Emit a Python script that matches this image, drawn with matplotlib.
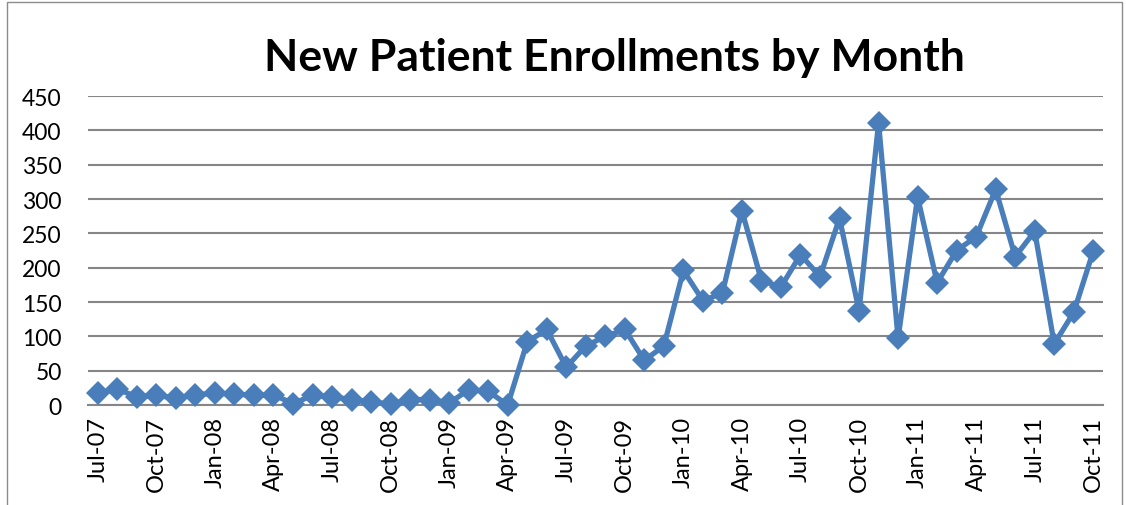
import matplotlib.pyplot as plt
from matplotlib.patches import Rectangle

# Monthly enrollments, Jul-07 .. Oct-11
months = ['Jul-07', 'Aug-07', 'Sep-07', 'Oct-07', 'Nov-07', 'Dec-07',
          'Jan-08', 'Feb-08', 'Mar-08', 'Apr-08', 'May-08', 'Jun-08',
          'Jul-08', 'Aug-08', 'Sep-08', 'Oct-08', 'Nov-08', 'Dec-08',
          'Jan-09', 'Feb-09', 'Mar-09', 'Apr-09', 'May-09', 'Jun-09',
          'Jul-09', 'Aug-09', 'Sep-09', 'Oct-09', 'Nov-09', 'Dec-09',
          'Jan-10', 'Feb-10', 'Mar-10', 'Apr-10', 'May-10', 'Jun-10',
          'Jul-10', 'Aug-10', 'Sep-10', 'Oct-10', 'Nov-10', 'Dec-10',
          'Jan-11', 'Feb-11', 'Mar-11', 'Apr-11', 'May-11', 'Jun-11',
          'Jul-11', 'Aug-11', 'Sep-11', 'Oct-11']
enrollments = [17, 23, 12, 14, 10, 15,
               17, 16, 14, 15, 2, 14,
               12, 8, 5, 1, 8, 8,
               3, 22, 20, 0, 92, 110,
               55, 86, 100, 110, 65, 86,
               196, 152, 163, 283, 181, 172,
               219, 187, 272, 137, 411, 97,
               303, 178, 225, 245, 314, 216,
               253, 89, 135, 224]
yticks = [0, 50, 100, 150, 200, 250, 300, 350, 400, 450]

fig = plt.figure(figsize=(11.26, 5.06), dpi=100)
ax = fig.add_axes([0.0782, 0.1976, 0.9014, 0.6107])

x = list(range(len(months)))
ax.plot(x, enrollments, color='#4A7EBB', linewidth=3.8, marker='D',
        markersize=12.5, markeredgewidth=0, zorder=3, clip_on=False)

ax.set_xlim(-0.5, len(months) - 0.5)
ax.set_ylim(0, 450)
ax.set_yticks(yticks)
ax.set_yticklabels([str(v) for v in yticks], fontfamily='Lato', fontsize=16.5)
ax.set_xticks(x[::3])
ax.set_xticklabels(months[::3], rotation=90, fontfamily='Lato', fontsize=17)
ax.tick_params(axis='x', length=0, pad=8)
ax.tick_params(axis='y', length=0, pad=19)

ax.grid(axis='y', color='#868686', linewidth=1.5)
ax.set_axisbelow(True)
for s in ['top', 'right', 'left']:
    ax.spines[s].set_visible(False)
ax.spines['bottom'].set_color('#868686')
ax.spines['bottom'].set_linewidth(1.5)

fig.text(0.546, 0.885, 'New Patient Enrollments by Month', ha='center', va='center',
         fontfamily='Lato', fontweight='bold', fontsize=32)

# outer chart border
fig.patches.append(Rectangle((7 / 1126, -0.02), 1115 / 1126, 1 - 3 / 506 + 0.02,
                             transform=fig.transFigure, fill=False,
                             edgecolor='#8c8c8c', linewidth=1))

fig.savefig('out.png', dpi=100)
plt.close(fig)
